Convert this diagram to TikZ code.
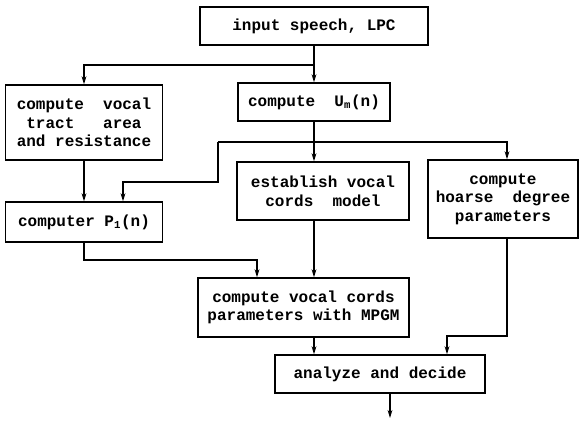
\documentclass[tikz,border=0pt]{standalone}
\usepackage{fontspec}
\setmonofont{Liberation Mono}
\usetikzlibrary{arrows.meta}
\tikzset{
	box/.style={draw,line width=1.1pt,inner sep=0pt,align=center,
		font=\ttfamily\bfseries\fontsize{12}{14}\selectfont},
	link/.style={line width=1.1pt},
	flow/.style={link,-{Stealth[length=6pt,width=3.6pt]}}
}
\begin{document}
\begin{tikzpicture}[x=0.75pt,y=-0.75pt]
				\useasboundingbox (0,0) rectangle (579,421);
				\node[box,minimum width=171pt,minimum height=28.5pt] (input) at (314,26) {input speech, LPC};
				\node[box,minimum width=117.75pt,minimum height=56.25pt] (tract) at (84,122.5) {compute~~vocal\\tract~~~area\\and resistance};
				\node[box,minimum width=114pt,minimum height=28.5pt] (Um) at (314,102) {compute~~U\textsubscript{m}(n)};
				\node[box,minimum width=117.75pt,minimum height=30pt] (P1) at (84,222) {computer P\textsubscript{1}(n)};
				\node[box,minimum width=129pt,minimum height=43.5pt] (establish) at (323,191) {establish vocal\\cords~~model};
				\node[box,minimum width=112.5pt,minimum height=58.5pt] (hoarse) at (503,199) {compute\\hoarse~~degree\\parameters};
				\node[box,minimum width=158.25pt,minimum height=44.25pt] (MPGM) at (303.5,307.5) {compute vocal cords\\parameters with MPGM};
				\node[box,minimum width=157.5pt,minimum height=28.5pt] (analyze) at (380,374) {analyze and decide};
				\coordinate (S1) at (314,65);
				\coordinate (S1L) at (84,65);
				\coordinate (S2) at (314,142);
				\coordinate (S2L) at (218,142);
				\coordinate (S2R) at (507,142);
				\coordinate (B1) at (218,182);
				\coordinate (B2) at (123,182);
				\coordinate (C1) at (84,260);
				\coordinate (C2) at (257,260);
				\coordinate (D1) at (507,336);
				\coordinate (D2) at (447,336);
				\coordinate (out) at (390,418);
				\draw[link] (input) -- (S1);
				\draw[flow] (S1) -- (Um);
				\draw[flow] (S1) -- (S1L) -- (tract);
				\draw[flow] (tract) -- (P1);
				\draw[link] (Um) -- (S2);
				\draw[flow] (S2) -- (S2 |- establish.north);
				\draw[flow] (S2L) -- (S2R) -- (S2R |- hoarse.north);
				\draw[flow] (S2L) -- (B1) -- (B2) -- (B2 |- P1.north);
				\draw[flow] (P1) -- (C1) -- (C2) -- (C2 |- MPGM.north);
				\draw[flow] (establish.south -| S2) -- (S2 |- MPGM.north);
				\draw[flow] (MPGM.south -| S2) -- (S2 |- analyze.north);
				\draw[flow] (hoarse.south -| D1) -- (D1) -- (D2) -- (D2 |- analyze.north);
				\draw[flow] (analyze.south -| out) -- (out);
\end{tikzpicture}
\end{document}
